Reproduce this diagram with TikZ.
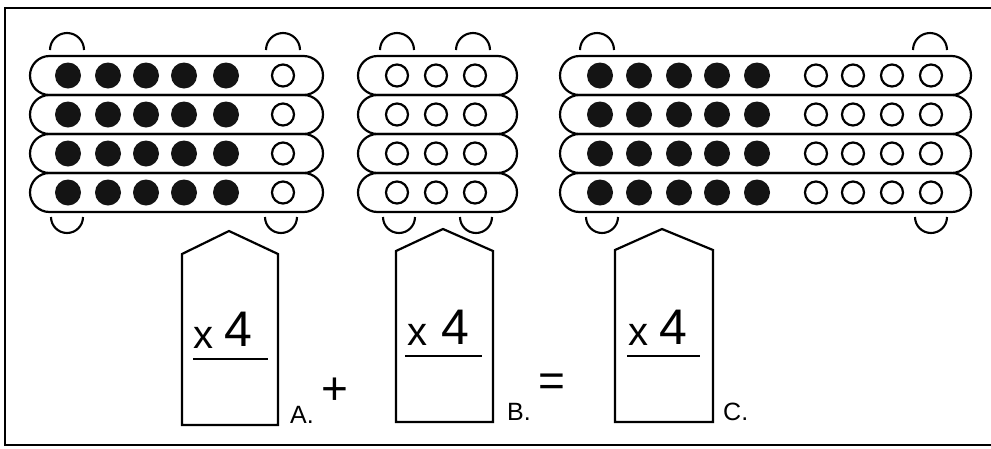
\documentclass[tikz,border=0pt]{standalone}
\usepackage{fontspec}
\setmainfont{Liberation Sans}
\usetikzlibrary{positioning}

\begin{document}
\begin{tikzpicture}[x=1pt,y=-1pt,
  strip/.style={draw=black,line width=2.2pt,rounded corners=19.5pt},
  bead/.style={circle,fill=black!92,inner sep=0pt,minimum size=26pt},
  hole/.style={circle,draw=black,line width=2.2pt,inner sep=0pt,minimum size=22pt},
  ring/.style={draw=black,line width=2.1pt},
  tag/.style={draw=black,line width=2.2pt,line join=miter},
  times/.style={font=\fontsize{40}{40}\selectfont,anchor=base,inner sep=0pt},
  four/.style={font=\fontsize{50}{50}\selectfont,anchor=base,inner sep=0pt},
  under/.style={draw=black,line width=2.6pt},
  lbl/.style={font=\fontsize{25}{25}\selectfont,anchor=base west,inner sep=0pt},
  sign/.style={font=\fontsize{46}{46}\selectfont,inner sep=0pt}
]
\useasboundingbox (0,0) rectangle (991,448);
\draw[line width=2.4pt] (991,8) -- (5,8) -- (5,445) -- (991,445);

% strips of beads
\foreach \r in {0,...,3} {
  \draw[strip] (30,{56+39*\r}) rectangle (323,{95+39*\r});
  \draw[strip] (358,{56+39*\r}) rectangle (517,{95+39*\r});
  \draw[strip] (560,{56+39*\r}) rectangle (971,{95+39*\r});
  \foreach \x [count=\i] in {68,108,146,184,226}
    \node[bead] (a-\r-\i) at (\x,{75.5+39*\r}) {};
  \node[hole] (a-\r-6) at (283,{75.5+39*\r}) {};
  \foreach \x [count=\i] in {397,436,475}
    \node[hole] (b-\r-\i) at (\x,{75.5+39*\r}) {};
  \foreach \x [count=\i] in {600,639,679,717,757}
    \node[bead] (c-\r-\i) at (\x,{75.5+39*\r}) {};
  \foreach \x [count=\i from 6] in {816,853,892,931}
    \node[hole] (c-\r-\i) at (\x,{75.5+39*\r}) {};
}

% rings
\foreach \x in {67,283,397,473,597,930}
  \draw[ring] ({\x-17},50) arc[start angle=180,end angle=360,radius=17];
\foreach \x in {67,281,399,476,602,931}
  \draw[ring] ({\x-16},217) arc[start angle=180,end angle=0,radius=16];

% tags
\draw[tag] (182,425) -- (182,254) -- (229,231) -- (278,254) -- (278,425) -- cycle;
\draw[tag] (396,422) -- (396,251) -- (443,229) -- (493,251) -- (493,422) -- cycle;
\draw[tag] (615,422) -- (615,250) -- (662,229) -- (713,250) -- (713,422) -- cycle;

\node[times] (xa) at (203,348) {x};
\node[four] (fa) at (238,346) {4};
\draw[under] (193,359) -- (268,359);
\node[times] (xb) at (417,345) {x};
\node[four] (fb) at (455,344) {4};
\draw[under] (405,356) -- (482,356);
\node[times] (xc) at (638,345) {x};
\node[four] (fc) at (673,344) {4};
\draw[under] (627,356) -- (700,356);

\node[lbl] (la) at (290,423) {A.};
\node[lbl] (lb) at (507,420) {B.};
\node[lbl] (lc) at (723,420) {C.};
\node[sign] (plus) at (335,391) {+};
\node[sign] (eq) at (552,385) {=};
\end{tikzpicture}
\end{document}
